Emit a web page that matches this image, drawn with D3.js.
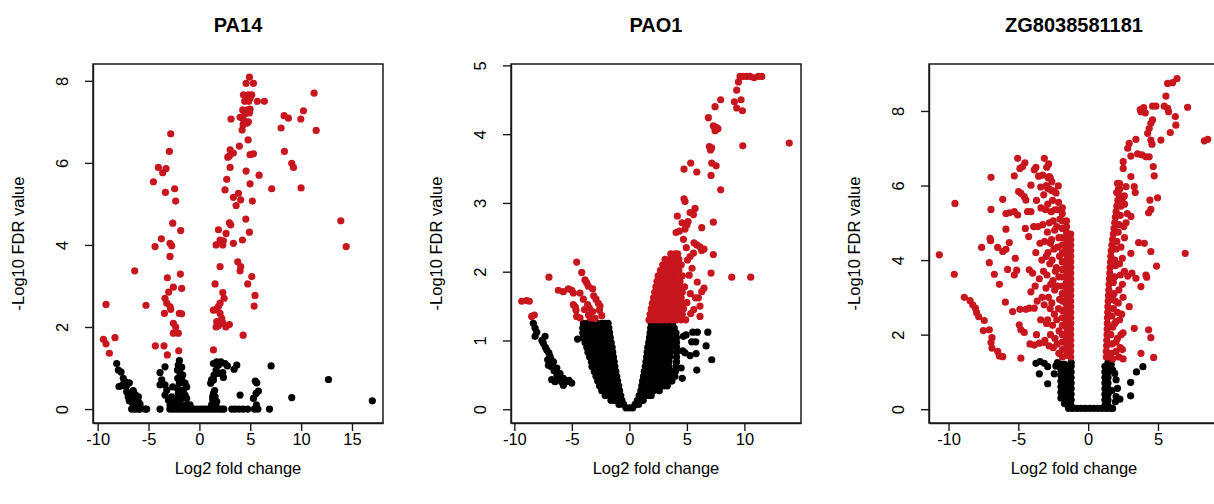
<!DOCTYPE html>
<html lang="en">
<head>
<meta charset="utf-8">
<style>
  body { margin: 0; background: #fff; }
  text { font-family: "Liberation Sans", Arial, Helvetica, sans-serif; fill: #000; }
</style>
</head>
<body>
<svg id="chart" width="1214" height="504"></svg>
<script src="https://cdn.jsdelivr.net/npm/d3@7/dist/d3.min.js"></script>
<script>
// ---------- data (log2 fold change, -log10 FDR) ----------
const titles = ["PA14", "PAO1", "ZG8038581181"];

// PA14
const pa14Red = [
  [4.92,8.09],[4.59,7.94],[5.31,7.94],[4.33,7.66],[4.82,7.66],[5.15,7.66],[4.6,7.58],[5.0,7.58],
  [4.45,7.5],[4.85,7.5],[5.7,7.5],[6.39,7.5],[11.28,7.7],[4.26,7.29],[4.75,7.29],[4.98,7.31],
  [4.5,7.2],[4.92,7.22],[3.11,7.07],[4.0,7.11],[4.33,7.05],[4.82,7.0],[4.3,6.93],[4.7,6.97],
  [4.2,6.8],[8.33,7.15],[8.75,7.09],[10.23,7.27],[9.97,7.07],[8.03,6.85],[11.48,6.79],[4.79,6.56],
  [3.93,6.41],[3.02,6.32],[3.34,6.24],[2.79,6.14],[2.95,6.17],[4.98,6.2],[5.31,6.22],[8.36,6.28],
  [9.08,5.99],[9.25,5.89],[3.02,5.89],[4.59,5.8],[5.87,5.7],[2.69,5.6],[10.0,5.39],[7.11,5.37],
  [4.98,5.49],[2.52,5.34],[3.84,5.26],[3.34,5.16],[4.06,5.1],[3.61,4.96],[5.21,5.07],[4.56,4.63],
  [2.95,4.54],[3.08,4.49],[13.9,4.59],[4.92,4.31],[1.87,4.37],[2.62,4.28],[2.03,4.12],[2.36,4.1],
  [4.23,4.12],[1.64,4.0],[2.3,4.0],[3.34,4.04],[14.43,3.96],[3.77,3.59],[4.06,3.47],[4.0,3.37],
  [2.03,3.47],[5.15,3.23],[1.54,3.05],[4.75,3.05],[5.47,2.77],[5.38,2.51],[2.3,2.84],[2.43,2.7],
  [2.03,2.58],[1.87,2.5],[1.64,2.43],[1.38,2.41],[2.03,2.33],[2.2,2.21],[1.7,2.13],[1.64,2.0],
  [2.3,2.1],[2.95,2.06],[2.6,2.0],[1.87,2.03],[1.38,1.44],[4.3,1.8],
  [-2.82,6.71],[-2.95,6.28],[-4.03,5.89],[-3.28,5.86],[-3.61,5.76],[-4.52,5.54],[-3.34,5.28],
  [-2.43,5.37],[-2.33,5.07],[-2.62,4.53],[-1.84,4.35],[-3.74,4.15],[-4.36,3.96],[-2.89,4.04],
  [-2.72,3.98],[-2.89,3.72],[-6.36,3.37],[-3.15,3.2],[-1.87,3.29],[-2.56,2.97],[-1.74,2.94],
  [-3.02,2.85],[-3.38,2.7],[-3.21,2.58],[-2.89,2.5],[-2.82,2.43],[-3.44,2.33],[-1.97,2.33],
  [-1.74,2.32],[-9.18,2.55],[-5.25,2.53],[-2.56,2.09],[-2.33,2.0],[-2.56,1.85],[-2.07,1.85],
  [-9.44,1.7],[-9.18,1.59],[-8.3,1.74],[-8.85,1.36],[-4.33,1.54],[-3.48,1.54],[-3.15,1.32],[-2.03,1.42]
];
const pa14Black = [
  [-8.13,1.11],[-7.97,0.95],[-7.7,0.9],[-7.48,0.75],[-7.31,0.67],[-6.89,0.64],[-7.64,0.57],[-7.9,0.55],
  [-7.41,0.63],[-7.15,0.42],[-6.98,0.38],[-6.82,0.26],[-6.66,0.3],[-6.49,0.26],[-6.16,0.22],[-6.0,0.18],
  [-5.84,0.12],[-6.9,0.2],[-6.56,0.14],[-6.4,0.08],[-6.2,0.05],[-7.0,0.3],[-6.66,0.0],[-6.33,0.0],
  [-6.0,0.0],[-5.84,0.0],[-5.34,0.0],[-5.18,0.0],[-6.3,0.35],[-6.0,0.3],[-7.2,0.55],[-6.5,0.45],
  [-1.97,1.18],[-2.07,1.07],[-1.74,1.02],[-2.16,0.95],[-1.9,0.87],[-1.64,0.83],[-2.13,0.75],[-1.74,0.71],
  [-1.97,0.63],[-1.41,0.63],[-1.25,0.54],[-1.57,0.46],[-2.16,0.5],[-2.07,0.38],[-1.41,0.34],[-1.74,0.26],
  [-1.25,0.26],[-2.39,0.18],[-1.9,0.14],[-1.25,0.1],[-0.92,0.1],[-2.62,0.54],[-2.2,0.05],[-1.6,0.08],
  [-1.1,0.05],[-2.6,0.15],[-1.4,0.3],[-2.3,0.25],
  [-3.38,1.03],[-3.87,0.89],[-3.7,0.71],[-3.87,0.59],[-3.38,0.59],[-3.21,0.46],[-3.38,0.34],[-2.72,0.3],
  [-3.05,0.22],[-2.89,0.1],[-2.56,0.06],[-3.87,0.0],
  [-2.9,0],[-2.6,0],[-2.3,0],[-2.0,0],[-1.7,0],[-1.4,0],[-1.1,0],[-0.8,0],[-0.5,0],[-0.2,0],
  [0.1,0],[0.4,0],[0.7,0],[1.0,0],[1.3,0],[1.6,0],[1.9,0],[2.2,0],[2.4,0],
  [1.38,1.11],[1.7,1.15],[2.1,1.15],[2.52,1.11],[2.75,1.05],[1.87,1.07],[1.64,0.95],[1.44,0.83],
  [1.21,0.72],[1.11,0.63],[2.36,0.77],[3.41,0.97],[3.67,1.07],[2.3,0.89],[1.38,0.38],[1.54,0.3],
  [1.31,0.22],[1.7,0.18],[1.44,0.12],[1.64,0.06],[1.2,0.1],[1.3,0.3],[1.5,0.45],[1.38,0.71],[1.87,0.87],
  [3.18,0],[3.5,0],[3.9,0],[4.3,0],[4.75,0],[4.0,0.34],[5.31,0.26],[5.57,0.38],[5.8,0.44],[5.64,0.64],
  [5.5,0.68],[5.41,0],[6.89,0],[7.05,1.05],[9.08,0.28],[12.69,0.72],[17.0,0.2],[5.6,0.1],[5.75,0.0]
];

// PAO1
const pao1Red = [
  [9.62,4.84],[9.91,4.84],[10.2,4.84],[10.49,4.84],[10.84,4.82],[11.22,4.84],[11.51,4.84],[9.48,4.76],
  [9.33,4.64],[9.13,4.47],[9.71,4.5],[9.33,4.38],[9.83,4.34],[7.94,4.5],[7.45,4.4],[6.87,4.24],
  [7.3,4.12],[7.55,4.1],[7.7,4.08],[7.45,4.05],[9.86,3.83],[13.9,3.87],[6.95,3.82],[7.15,3.8],
  [7.05,3.77],[7.16,3.58],[7.54,3.54],[5.33,3.58],[4.75,3.49],[5.86,3.45],[7.1,3.4],[7.94,3.19],
  [4.75,3.06],[4.84,3.02],[5.71,2.92],[5.28,2.86],[5.57,2.83],[4.17,2.81],[5.1,2.73],[4.58,2.71],
  [5.0,2.68],[7.3,2.72],[6.29,2.64],[4.84,2.62],[4.06,2.57],[4.35,2.59],[4.7,2.47],[5.62,2.42],
  [5.86,2.39],[6.14,2.36],[6.49,2.33],[6.29,2.31],[7.3,2.25],[5.57,2.27],[5.28,2.22],[5.05,2.17],
  [7.1,1.98],[8.9,1.92],[10.55,1.92],[6.49,1.76],[6.29,1.71],[6.14,1.5],[6.14,1.35],[5.33,1.39],
  [5.2,1.95],[5.45,2.05],[5.9,1.85],[5.0,1.55],[5.3,1.68],[5.75,1.62],[4.95,2.35],[5.6,1.45],
  [-4.58,2.14],[-4.14,1.99],[-6.99,1.92],[-3.86,1.88],[-3.71,1.84],[-3.57,1.79],[-3.19,1.75],
  [-6.17,1.73],[-5.74,1.71],[-5.3,1.75],[-5.01,1.73],[-4.87,1.69],[-4.29,1.69],[-9.36,1.57],
  [-8.93,1.58],[-8.7,1.57],[-4.87,1.52],[-4.7,1.49],[-4.64,1.44],[-2.9,1.6],[-2.7,1.54],
  [-2.55,1.5],[-2.6,1.44],[-2.4,1.36],[-3.63,1.52],[-3.48,1.47],[-3.19,1.42],[-3.55,1.37],
  [-8.49,1.35],[-8.26,1.37],[-4.58,1.35],[-4.29,1.33],[-3.42,1.33],[-2.99,1.32],[-3.1,1.65],
  [-4.0,1.6],[-3.9,1.45]
];
// dense red block of PAO1, read row by row: [y, x values]
const pao1RedRows = [
  [1.30, [1.7,2.1,2.5,2.9,3.3,3.7,4.1,4.5,4.9]],
  [1.38, [1.8,2.2,2.6,3.0,3.4,3.8,4.2,4.6]],
  [1.46, [1.9,2.3,2.7,3.1,3.5,3.9,4.3,4.7]],
  [1.54, [2.0,2.4,2.8,3.2,3.6,4.0,4.4,4.8]],
  [1.62, [2.1,2.5,2.9,3.3,3.7,4.1,4.5,6.0]],
  [1.70, [2.2,2.6,3.0,3.4,3.8,4.2,4.6]],
  [1.78, [2.3,2.7,3.1,3.5,3.9,4.3,4.8]],
  [1.86, [2.4,2.8,3.2,3.6,4.0,4.4]],
  [1.94, [2.5,2.9,3.3,3.7,4.1,4.6]],
  [2.02, [2.7,3.1,3.5,3.9,4.3]],
  [2.10, [2.9,3.3,3.7,4.1,4.5]],
  [2.18, [3.1,3.5,3.9,4.3]],
  [2.26, [3.6,4.0,4.2]]
];
// dense black V of PAO1, read row by row: [y, x values]
const pao1BlackRows = [
  [1.25, [-4.0,-3.6,-3.2,-2.8,-2.4,-2.1,-1.85, 1.9,2.3,2.7,3.1,3.5,3.75]],
  [1.18, [-4.05,-3.65,-3.25,-2.85,-2.45,-2.1,-1.78, 1.85,2.25,2.65,3.05,3.45,3.9]],
  [1.11, [-4.05,-3.65,-3.25,-2.85,-2.45,-2.05,-1.72, 1.8,2.2,2.6,3.0,3.4,3.8,4.05]],
  [1.04, [-4.0,-3.6,-3.2,-2.8,-2.4,-2.0,-1.66, 1.75,2.15,2.55,2.95,3.35,3.75,4.1]],
  [0.97, [-3.85,-3.45,-3.05,-2.65,-2.25,-1.9,-1.58, 1.68,2.05,2.45,2.85,3.25,3.65,4.1]],
  [0.90, [-3.7,-3.3,-2.9,-2.5,-2.1,-1.8,-1.5, 1.6,2.0,2.4,2.8,3.2,3.6,4.1]],
  [0.83, [-3.6,-3.2,-2.8,-2.4,-2.0,-1.7,-1.45, 1.55,1.95,2.35,2.75,3.15,3.55,4.1]],
  [0.76, [-3.45,-3.05,-2.65,-2.25,-1.85,-1.38, 1.5,1.9,2.3,2.7,3.1,3.5,4.1]],
  [0.69, [-3.3,-2.9,-2.5,-2.1,-1.7,-1.32, 1.44,1.85,2.25,2.65,3.05,3.45,4.1]],
  [0.62, [-3.25,-2.85,-2.45,-2.05,-1.65,-1.26, 1.38,1.8,2.2,2.6,3.0,3.4,4.05]],
  [0.55, [-3.05,-2.65,-2.25,-1.85,-1.5,-1.18, 1.3,1.7,2.1,2.5,2.9,3.3,3.7,4.0]],
  [0.48, [-2.9,-2.5,-2.1,-1.7,-1.4,-1.1, 1.23,1.6,2.0,2.4,2.8,3.2,3.6,3.96]],
  [0.41, [-2.75,-2.35,-1.95,-1.6,-1.3,-1.02, 1.15,1.5,1.9,2.3,2.7,3.1,3.5,3.7]],
  [0.34, [-2.6,-2.2,-1.8,-1.45,-1.2,-0.93, 1.08,1.4,1.8,2.2,2.6,3.0,3.3]],
  [0.27, [-2.4,-2.0,-1.6,-1.25,-0.85, 1.0,1.35,1.7,2.1,2.6]],
  [0.20, [-2.1,-1.7,-1.35,-1.05,-0.75, 0.85,1.2,1.55,1.9]],
  [0.13, [-1.6,-1.3,-1.0,-0.65, 0.7,1.0,1.2]],
  [0.07, [-0.9,-0.5, 0.5,0.8]],
  [0.02, [-0.3,0,0.3]]
];
const pao1Black = [
  [-8.35,1.25],[-8.2,1.18],[-8.05,1.12],[-8.2,1.06],[-7.33,1.06],[-7.6,1.0],[-7.48,0.96],[-7.3,0.9],
  [-7.18,0.86],[-7.0,0.82],[-6.9,0.77],[-7.1,0.72],[-6.8,0.72],[-6.6,0.69],[-7.04,0.64],[-6.8,0.62],
  [-6.31,0.6],[-6.55,0.56],[-6.03,0.52],[-6.3,0.5],[-5.74,0.45],[-6.0,0.44],[-6.75,0.43],[-6.46,0.4],
  [-5.44,0.4],[-5.01,0.38],[-5.74,0.35],[-5.25,0.42],[-6.2,0.46],[-5.9,0.4],[-4.5,1.02],
  [4.93,1.08],[5.51,1.12],[5.91,1.12],[6.82,1.12],[5.42,0.98],[5.77,0.98],[6.67,0.92],[5.8,0.81],
  [7.16,0.72],[5.86,0.57],[5.28,0.78],[4.64,0.85],[4.7,1.06],[4.84,0.82],[4.5,0.6],[4.6,0.45]
];

// ZG8038581181
const zgRed = [
  [6.36,8.87],[6.05,8.76],[5.69,8.74],[5.57,8.4],[7.12,8.1],[4.61,8.13],[4.85,8.13],[5.45,8.13],
  [5.69,8.07],[5.76,7.98],[3.73,8.04],[3.97,8.09],[4.09,7.95],[3.78,7.98],[6.24,7.85],[6.28,7.62],
  [4.49,7.67],[4.37,7.53],[4.61,7.76],[4.26,7.4],[5.88,7.42],[5.21,7.22],[8.32,7.2],[8.56,7.24],
  [4.49,7.22],[4.57,7.11],[3.42,7.24],[2.94,7.13],[2.83,7.0],[3.06,6.79],[3.54,6.85],[3.85,6.82],
  [4.14,6.77],[4.37,6.77],[4.66,6.51],[4.73,6.26],[2.51,6.64],[2.51,6.46],[3.06,6.24],[2.1,6.06],
  [2.18,5.92],[2.04,5.81],[2.71,5.97],[3.3,5.97],[3.37,5.81],[2.59,5.72],[4.97,5.67],[4.42,5.61],
  [4.49,5.36],[4.33,5.27],[3.06,5.17],[2.71,5.0],[3.06,4.18],[3.61,4.47],[4.02,4.45],[4.49,4.23],
  [6.95,4.18],[4.9,3.84],[2.83,3.57],[3.13,3.65],[3.42,3.51],[4.14,3.6],[4.19,3.54],[3.78,3.29],
  [2.94,2.75],[3.3,2.17],[4.33,2.13],[4.49,1.92],[3.78,1.5],[4.69,1.39],
  [1.3,1.4],[1.3,1.55],[1.32,1.7],[1.33,1.85],[1.35,2.0],[1.36,2.15],[1.37,2.3],[1.38,2.45],
  [1.4,2.6],[1.41,2.75],[1.43,2.9],[1.45,3.05],[1.48,3.2],[1.5,3.35],[1.52,3.5],[1.55,3.65],
  [1.57,3.8],[1.6,3.95],[1.62,4.1],[1.65,4.25],[1.7,4.4],[1.75,4.55],[1.8,4.7],[1.85,4.85],
  [1.9,5.0],[1.95,5.15],[2.0,5.3],[2.05,5.45],[2.12,5.6],[2.2,5.75],[2.25,5.9],[2.25,6.05],
  [1.65,1.5],[1.7,1.75],[1.62,2.0],[1.75,2.2],[1.7,2.5],[1.8,2.7],[1.75,2.95],[1.85,3.1],
  [1.8,3.4],[1.9,3.55],[1.95,3.85],[1.9,4.0],[2.0,4.3],[2.05,4.5],[2.15,4.75],[2.2,4.95],
  [2.3,5.2],[2.35,5.45],
  [2.0,1.55],[2.3,1.65],[2.45,1.6],[2.1,1.9],[2.35,2.0],[2.5,2.05],[2.0,2.35],[2.25,2.4],
  [2.1,2.6],[2.4,2.55],[2.15,2.85],[2.5,3.0],[2.2,3.2],[2.45,3.35],[2.3,3.6],[2.6,3.7],
  [2.25,3.9],[2.45,4.05],[2.35,4.35],[2.6,4.6],[2.55,4.9],[2.8,5.25],[2.6,5.5],[2.45,5.65],
  [1.75,1.35],[2.2,1.4],[2.5,1.35],[2.0,1.8],[1.95,2.9],[1.9,2.3],
  [-10.66,4.14],[-9.54,5.52],[-9.59,3.62],[-8.87,3.0],[-8.46,2.91],[-8.27,2.8],[-8.08,2.71],
  [-7.99,2.59],[-7.84,2.48],[-7.44,2.38],[-7.51,2.11],[-7.08,2.13],[-6.89,1.92],[-6.96,1.79],
  [-6.89,1.64],[-6.48,1.55],[-6.36,1.43],[-6.12,1.41],[-6.96,6.22],[-6.96,5.36],[-7.03,4.58],
  [-6.99,4.52],[-7.63,4.34],[-7.08,3.93],[-6.72,3.62],[-6.36,3.35],[-6.12,5.63],[-5.89,5.25],
  [-5.65,5.27],[-5.29,5.3],[-5.05,5.21],[-5.89,4.83],[-6.48,4.34],[-6.12,4.23],[-5.89,4.29],
  [-5.65,4.47],[-5.77,3.75],[-5.22,4.05],[-5.12,3.73],[-5.29,3.6],[-5.93,2.87],[-5.41,2.62],
  [-4.89,2.68],[-4.46,2.68],[-4.94,2.26],[-4.82,2.13],[-4.58,2.06],[-4.82,1.37],[-5.05,6.73],
  [-4.89,6.46],[-4.7,6.51],[-4.53,6.61],[-5.29,6.26],[-4.98,5.84],[-4.82,5.79],[-4.58,5.7],
  [-4.46,5.61],[-4.1,6.01],[-4.34,5.3],[-4.1,5.3],[-4.5,4.85],[-4.26,4.63],[-4.22,3.74],
  [-3.98,3.65],[-4.1,3.15],[-4.22,2.71],[-3.86,2.71],[-4.17,1.75],[-3.86,1.72],[-3.5,1.77],
  [-3.14,1.79],[-3.74,6.49],[-3.26,6.28],[-3.14,6.73],[-2.97,6.49],[-2.83,6.58],[-2.78,6.24],
  [-3.55,6.25],[-2.71,6.2],[-3.86,6.42],[-2.14,5.99],[-3.4,5.96],[-2.9,5.93],[-2.6,5.86],
  // looser part of the left cluster
  [-2.1,1.5],[-2.22,1.75],[-2.08,2.1],[-2.25,2.4],[-2.12,2.7],[-2.05,2.95],[-2.2,3.3],[-2.1,3.55],
  [-2.28,3.8],[-2.05,4.1],[-2.18,4.35],[-2.1,4.6],[-2.25,4.9],[-2.02,5.1],[-2.2,5.35],[-2.12,5.55],
  [-2.3,5.8],
  [-2.5,1.65],[-2.38,1.9],[-2.55,2.25],[-2.42,2.55],[-2.6,2.85],[-2.4,3.2],[-2.52,3.45],[-2.35,3.7],
  [-2.58,4.0],[-2.45,4.3],[-2.62,4.55],[-2.4,4.8],[-2.5,5.05],[-2.38,5.35],[-2.55,5.6],[-2.45,5.85],
  [-2.6,6.1],
  [-2.8,1.7],[-2.7,2.0],[-2.9,2.4],[-2.72,2.7],[-2.85,3.0],[-2.68,3.35],[-2.95,3.6],[-2.75,3.9],
  [-2.88,4.2],[-2.7,4.45],[-2.92,4.75],[-2.78,5.0],[-2.65,5.3],[-2.9,5.5],[-2.75,5.9],[-2.85,6.2],
  [-3.1,1.85],[-2.98,2.3],[-3.15,2.8],[-3.02,3.25],[-3.2,3.7],[-3.0,4.1],[-3.12,4.5],[-3.25,4.95],
  [-3.05,5.35],[-3.18,5.75],[-3.0,6.0],
  [-3.4,2.4],[-3.3,3.0],[-3.5,3.5],[-3.32,4.0],[-3.45,4.45],[-3.6,4.9],[-3.38,5.4],
  [-3.7,2.0],[-3.65,2.9],[-3.8,3.3],[-3.75,4.2],[-3.9,4.9],[-3.7,5.6]
];
// solid red column just left of the black one in ZG8038581181: [x, y values]
const zgRedCols = [
  [-1.25, [1.4,1.55,1.7,1.85,2.0,2.15,2.3,2.45,2.6,2.75,2.9,3.05,3.2,3.35,3.5,3.65,3.8,3.95,4.1,4.25,4.4,4.55,4.7]],
  [-1.55, [1.45,1.6,1.75,1.9,2.05,2.2,2.35,2.5,2.65,2.8,2.95,3.1,3.25,3.4,3.55,3.7,3.85,4.0,4.15,4.3,4.45,4.6,4.75,4.9,5.05]],
  [-1.85, [1.4,1.6,1.8,2.0,2.25,2.45,2.65,2.9,3.1,3.3,3.55,3.75,3.95,4.2,4.4,4.6,4.85,5.05,5.25,5.4]]
];
// dense black columns in ZG8038581181: [x, y values]
const zgBlackCols = [
  [-1.95, [0.3,0.45,0.6,0.75,0.9,1.05,1.2]],
  [-1.7,  [0.15,0.3,0.45,0.6,0.75,0.9,1.05,1.2]],
  [-1.45, [0.1,0.25,0.4,0.55,0.7,0.85,1.0,1.15]],
  [-1.22, [0.1,0.25,0.4,0.55,0.7,0.85,1.0,1.15,1.25]],
  [1.2,   [0.1,0.25,0.4,0.55,0.7,0.85,1.0,1.15]],
  [1.42,  [0.1,0.25,0.4,0.55,0.7,0.85,1.0,1.15,1.25]]
];
const zgBlack = [
  [-1.4,0.02],[-1.1,0.02],[-0.8,0.02],[-0.5,0.02],[-0.2,0.02],[0.1,0.02],[0.4,0.02],[0.7,0.02],
  [1.0,0.02],[1.3,0.02],[1.6,0.02],[1.75,0.02],
  [-3.74,1.23],[-3.45,1.28],[-3.14,1.23],[-2.9,1.14],[-3.5,0.95],[-2.9,0.68],[-2.43,0.95],
  [-2.31,1.16],[-2.2,1.25],[1.9,0.96],[2.0,0.79],[2.1,0.56],[2.0,0.34],[1.95,0.2],[2.27,0.27],
  [3.04,0.72],[3.04,0.36],[3.46,1.0],[3.92,1.14],[1.75,1.05],[1.65,1.2],[1.7,0.5]
];

const rowsToPoints = rows => rows.flatMap(([y, xs]) => xs.map(x => [x, y]));
const colsToPoints = cols => cols.flatMap(([x, ys]) => ys.map(y => [x, y]));

// ---------- layout ----------
const boxTop = 64, boxBottom = 423, boxW = 290;
const red = "#c8161e";

const panels = [
  { title: titles[0], left: 93, xDomain: [-10.46, 18.05], yDomain: [-0.34, 8.41],
    xTicks: [-10, -5, 0, 5, 10, 15], yTicks: [0, 2, 4, 6, 8],
    black: pa14Black, red: pa14Red },
  { title: titles[1], left: 511, xDomain: [-10.29, 14.92], yDomain: [-0.2, 5.02],
    xTicks: [-10, -5, 0, 5, 10], yTicks: [0, 1, 2, 3, 4, 5],
    black: pao1Black.concat(rowsToPoints(pao1BlackRows)),
    red: pao1Red.concat(rowsToPoints(pao1RedRows)) },
  { title: titles[2], left: 929, xDomain: [-11.4, 9.37], yDomain: [-0.37, 9.26],
    xTicks: [-10, -5, 0, 5], yTicks: [0, 2, 4, 6, 8],
    black: zgBlack.concat(colsToPoints(zgBlackCols)),
    red: zgRed.concat(colsToPoints(zgRedCols)) }
];

const svg = d3.select("#chart");

function drawPanel(p, i) {
  const x = d3.scaleLinear().domain(p.xDomain).range([p.left, p.left + boxW]);
  const y = d3.scaleLinear().domain(p.yDomain).range([boxBottom, boxTop]);
  const g = svg.append("g").attr("class", "panel");

  const clipId = "clip" + i;
  g.append("clipPath").attr("id", clipId)
    .append("rect").attr("x", p.left).attr("y", boxTop)
    .attr("width", boxW).attr("height", boxBottom - boxTop);

  const dots = g.append("g").attr("clip-path", `url(#${clipId})`);
  dots.selectAll("circle.black").data(p.black).join("circle")
    .attr("class", "black")
    .attr("cx", d => x(d[0])).attr("cy", d => y(d[1])).attr("r", 3.6)
    .attr("fill", "#000");
  dots.selectAll("circle.red").data(p.red).join("circle")
    .attr("class", "red")
    .attr("cx", d => x(d[0])).attr("cy", d => y(d[1])).attr("r", 3.6)
    .attr("fill", red);

  // axes
  const xAxis = g.append("g").attr("transform", `translate(0,${boxBottom})`)
    .call(d3.axisBottom(x).tickValues(p.xTicks).tickSize(8).tickSizeOuter(0)
      .tickFormat(d => String(d)));
  xAxis.selectAll("text").attr("y", 22).attr("dy", null)
    .style("font-size", "16.5px");

  const yAxis = g.append("g").attr("transform", `translate(${p.left},0)`)
    .call(d3.axisLeft(y).tickValues(p.yTicks).tickSize(8).tickSizeOuter(0)
      .tickFormat(d => String(d)));
  yAxis.selectAll("text")
    .attr("x", null).attr("dy", null)
    .attr("text-anchor", "middle")
    .attr("transform", "translate(-25,0) rotate(-90)")
    .style("font-size", "16.5px");

  [xAxis, yAxis].forEach(a => {
    a.selectAll("line, path").attr("stroke", "#1a1a1a").attr("stroke-width", 1.4);
    a.attr("font-family", null);
  });

  // box
  g.append("rect")
    .attr("x", p.left).attr("y", boxTop)
    .attr("width", boxW).attr("height", boxBottom - boxTop)
    .attr("fill", "none").attr("stroke", "#1a1a1a").attr("stroke-width", 1.5);

  // titles
  g.append("text")
    .attr("x", p.left + boxW / 2).attr("y", 32)
    .attr("text-anchor", "middle")
    .style("font-size", "20px").style("font-weight", "bold")
    .text(p.title);

  g.append("text")
    .attr("x", p.left + boxW / 2).attr("y", 474)
    .attr("text-anchor", "middle")
    .style("font-size", "16.5px")
    .text("Log2 fold change");

  g.append("text")
    .attr("transform", `translate(${p.left - 69},${(boxTop + boxBottom) / 2}) rotate(-90)`)
    .attr("text-anchor", "middle")
    .style("font-size", "16.5px")
    .text("-Log10 FDR value");
}

panels.forEach(drawPanel);
</script>
</body>
</html>
